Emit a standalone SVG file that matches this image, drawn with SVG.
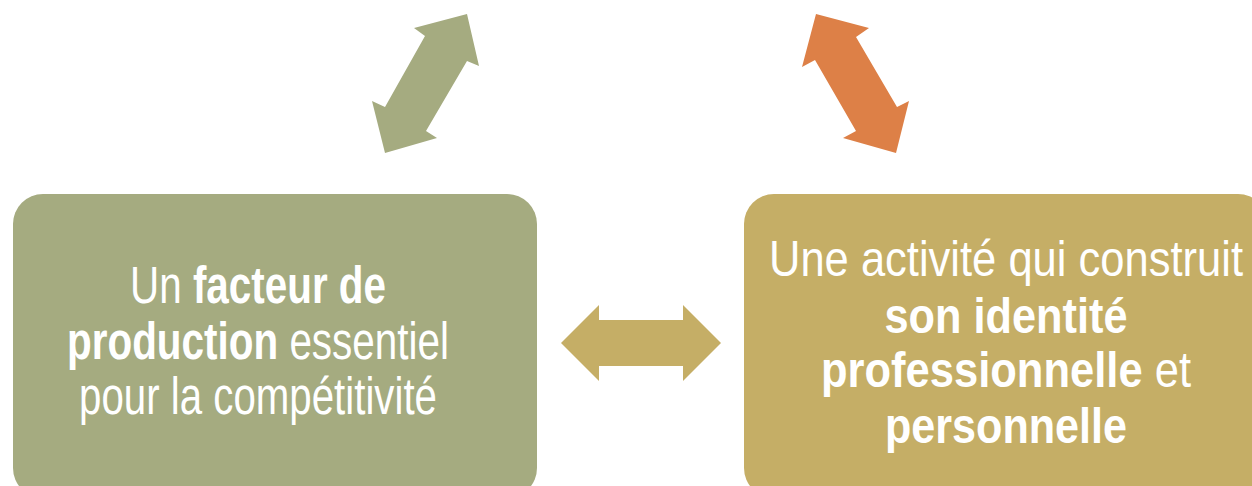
<svg xmlns="http://www.w3.org/2000/svg" width="1252" height="486" viewBox="0 0 1252 486">
<style>
.t{fill:#FFFFFF;font-family:"Liberation Sans Narrow","Arial Narrow","Liberation Sans",Arial,sans-serif;text-anchor:middle}
.l{font-size:51px}
.r{font-size:50px}
.b{font-weight:bold}
</style>
<rect width="1252" height="486" fill="#FFFFFF"/>
<g id="connectors">
<polygon id="arrow-green" fill="#A5AB80" points="467,14 479,66 467,61 426,131 437,138 385,153 372,101 385,107 425,36 414,28"/>
<polygon id="arrow-orange" fill="#DD8047" points="816,14 869,28 856,37 897,107 909,101 896,153 843,138 856,131 815,60 802,67"/>
<polygon id="arrow-gold" fill="#C5AE66" points="561,343 599,305 599,320 683,320 683,305 721,343 683,381 683,366 599,366 599,381"/>
</g>
<g id="node-left">
<rect x="13" y="194" width="524" height="304" rx="30" ry="30" fill="#A5AB80"/>
<text class="t l" x="258" y="303" textLength="256" lengthAdjust="spacingAndGlyphs">Un <tspan class="b">facteur de</tspan></text>
<text class="t l" x="258" y="359" textLength="382" lengthAdjust="spacingAndGlyphs"><tspan class="b">production</tspan> essentiel</text>
<text class="t l" x="258" y="414" textLength="358" lengthAdjust="spacingAndGlyphs">pour la compétitivité</text>
</g>
<g id="node-right">
<rect x="744" y="194" width="524" height="304" rx="30" ry="30" fill="#C5AE66"/>
<text class="t r" x="1006" y="276" textLength="474" lengthAdjust="spacingAndGlyphs">Une activité qui construit</text>
<text class="t r b" x="1006" y="333" textLength="243" lengthAdjust="spacingAndGlyphs">son identité</text>
<text class="t r" x="1006" y="387" textLength="370" lengthAdjust="spacingAndGlyphs"><tspan class="b">professionnelle</tspan> et</text>
<text class="t r b" x="1006" y="443" textLength="242" lengthAdjust="spacingAndGlyphs">personnelle</text>
</g>
</svg>
